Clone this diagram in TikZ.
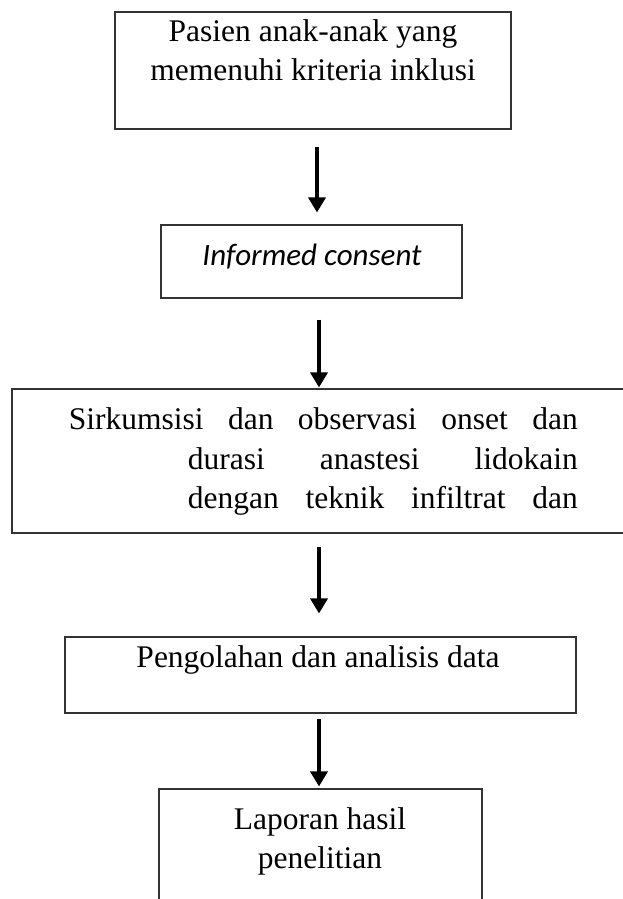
\documentclass[tikz,border=0pt]{standalone}
\usepackage{fontspec}
\setmainfont{Liberation Serif}
\newfontfamily\calfont{Carlito}
\usetikzlibrary{arrows.meta}
\begin{document}
\begin{tikzpicture}[x=1pt,y=-1pt,
  box/.style={draw=black!80, line width=1.1pt, rectangle, inner sep=0pt},
  arr/.style={line width=3.4pt, -{Triangle[length=15pt,width=17pt]}},
  txt/.style={anchor=base, inner sep=0pt, font=\fontsize{31.5}{39}\selectfont}]
\useasboundingbox (0,0) rectangle (622,899);
\fill[white] (0,0) rectangle (622,899);
% boxes
\node[box, minimum width=396pt, minimum height=117pt] (b1) at (313,70.5) {};
\node[box, minimum width=301pt, minimum height=73pt] (b2) at (311.5,261.5) {};
\node[box, minimum width=628pt, minimum height=144pt] (b3) at (326,461) {};
\node[box, minimum width=511pt, minimum height=76pt] (b4) at (320.5,675) {};
\node[box, minimum width=323pt, minimum height=131pt] (b5) at (320.5,854.5) {};
% texts
\node[txt] (t1a) at (313,42) {Pasien anak-anak yang};
\node[txt] (t1b) at (313,81) {memenuhi kriteria inklusi};
\node[txt, font=\calfont\itshape\fontsize{31}{38}\selectfont] (t2) at (312,265) {Informed consent};
\node[txt, anchor=base east] (t3a) at (578,429) {\hbox to 509pt{Sirkumsisi\hfill dan\hfill observasi\hfill onset\hfill dan}};
\node[txt, anchor=base east] (t3b) at (578,469) {\hbox to 390pt{durasi\hfill anastesi\hfill lidokain}};
\node[txt, anchor=base east] (t3c) at (578,508) {\hbox to 390pt{dengan\hfill teknik\hfill infiltrat\hfill dan}};
\node[txt] (t4) at (318,667) {Pengolahan dan analisis data};
\node[txt] (t5a) at (320,829) {Laporan hasil};
\node[txt] (t5b) at (320,868) {penelitian};
% arrow columns
\coordinate (c1) at (317,0);
\coordinate (c2) at (319,0);
\coordinate (c3) at (319,0);
\coordinate (c4) at (319,0);
\draw[arr, shorten <=17pt, shorten >=12pt] (b1.south -| c1) -- (b2.north -| c1);
\draw[arr, shorten <=21pt, shorten >=1pt] (b2.south -| c2) -- (b3.north -| c2);
\draw[arr, shorten <=13pt, shorten >=23pt] (b3.south -| c3) -- (b4.north -| c3);
\draw[arr, shorten <=5pt, shorten >=2pt] (b4.south -| c4) -- (b5.north -| c4);
\end{tikzpicture}
\end{document}
